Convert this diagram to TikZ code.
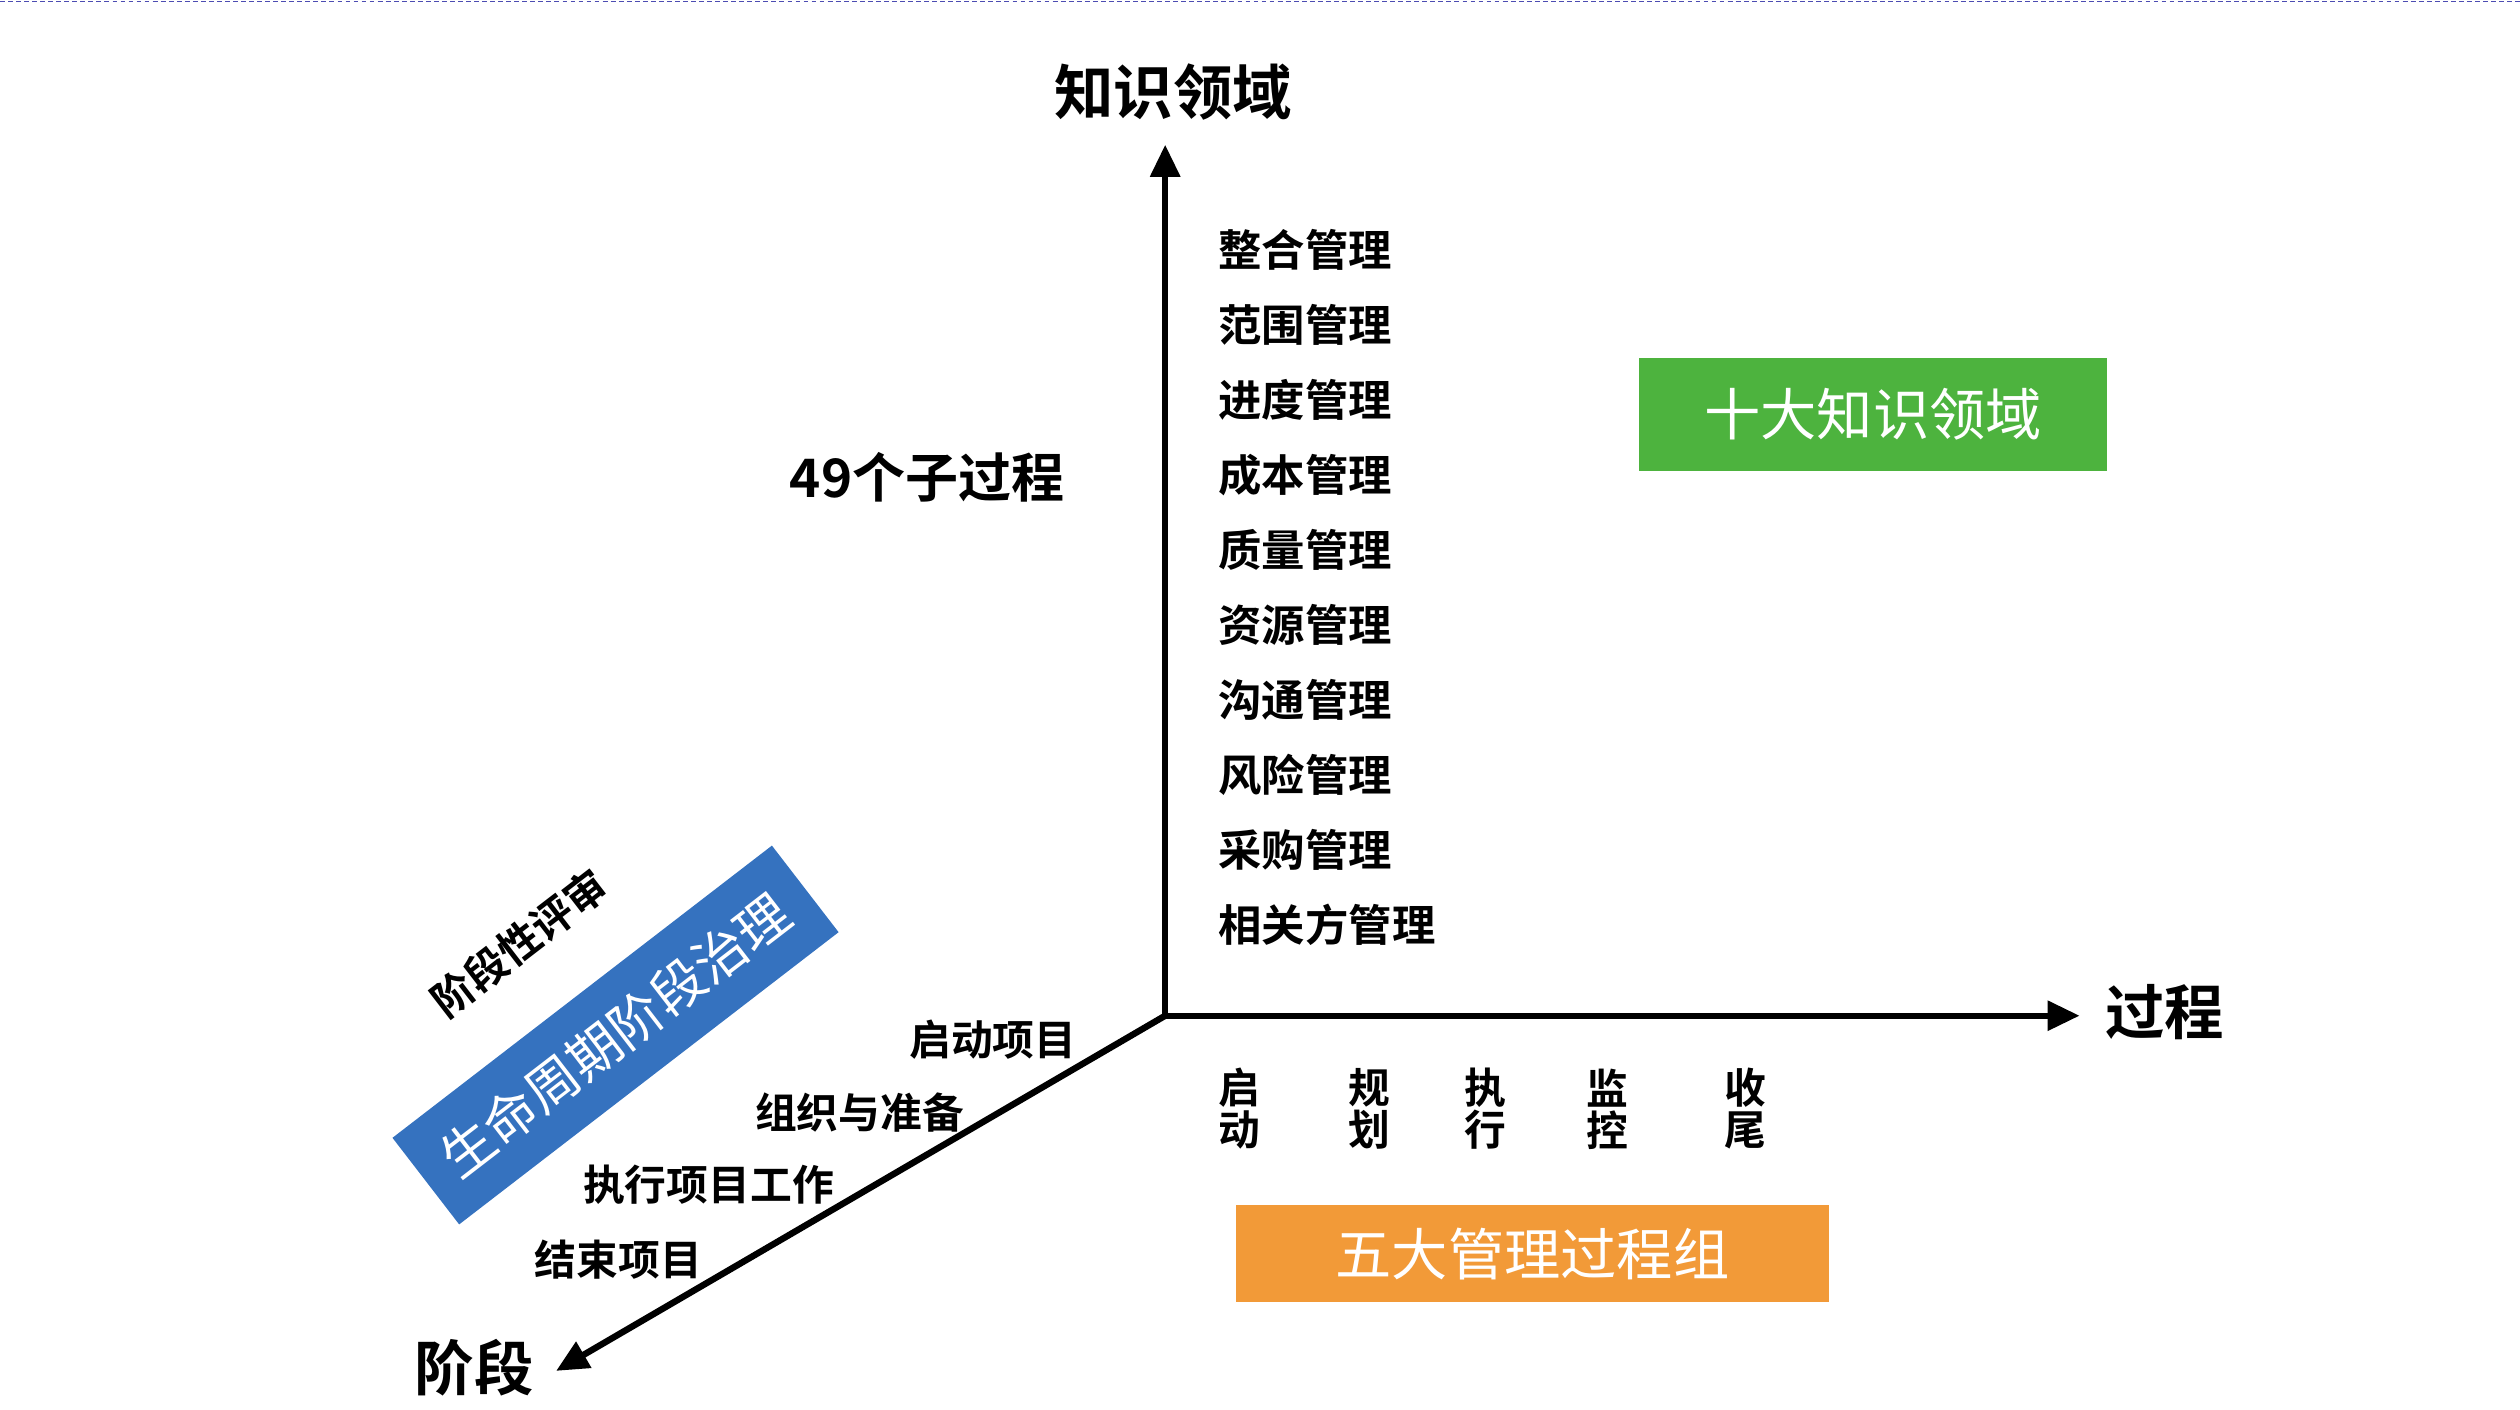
\documentclass[tikz,border=0pt]{standalone}
\usepackage{fontspec}
\newfontfamily\cjk{Noto Sans CJK SC}[BoldFont={Noto Sans CJK SC Bold}]
\definecolor{gbox}{HTML}{4DB33E}
\definecolor{obox}{HTML}{F29A38}
\definecolor{bbox}{HTML}{3572BF}
\begin{document}
\begin{tikzpicture}[x=1pt,y=-1pt,
  ax/.style={line width=4pt,-{Triangle[length=20pt,width=18pt]}},
  item/.style={font=\cjk\bfseries\fontsize{27}{29}\selectfont,anchor=west,inner sep=0},
  big/.style={font=\cjk\bfseries\fontsize{37}{39}\selectfont,inner sep=0},
  col/.style={font=\cjk\bfseries\fontsize{26}{26}\selectfont,align=center,inner sep=0},
  ph/.style={font=\cjk\bfseries\fontsize{26}{28}\selectfont,anchor=east,inner sep=0}]
\usetikzlibrary{arrows.meta}
\useasboundingbox (0,0) rectangle (1568,877);
\draw[densely dashed,color=blue!40!gray,line width=1pt] (0,1) -- (1568,1);
\coordinate (o) at (725,632);
\coordinate (up) at (725,90);
\coordinate (rt) at (1294,632);
\coordinate (dl) at (346,853);
\draw[ax] (o) -- (up);
\draw[ax] (o) -- (rt);
\draw[ax] (o) -- (dl);
\node[big] (kn) at (730,57) {知识领域};
\node[big] (pr) at (1347,630) {过程};
\node[big] (st) at (295,851) {阶段};
\node[big,font=\cjk\bfseries\fontsize{33}{35}\selectfont] (sub) at (577,297) {49个子过程};
\foreach \t [count=\i] in {整合管理,范围管理,进度管理,成本管理,质量管理,资源管理,沟通管理,风险管理,采购管理,相关方管理}
  \node[item] (k\i) at (758,108.5+46.7*\i) {\t};
\node[fill=gbox,minimum width=291pt,minimum height=70pt,text=white,font=\cjk\fontsize{35}{37}\selectfont] (g) at (1165.5,258) {十大知识领域};
\node[fill=obox,minimum width=369pt,minimum height=60pt,text=white,font=\cjk\fontsize{35}{37}\selectfont] (og) at (953.5,780) {五大管理过程组};
\node[col] (c1) at (771,690) {启\\动};
\node[col] (c2) at (852,690) {规\\划};
\node[col] (c3) at (924,690) {执\\行};
\node[col] (c4) at (1000,690) {监\\控};
\node[col] (c5) at (1086,690) {收\\尾};
\node[ph] (p1) at (670,647) {启动项目};
\node[ph] (p2) at (600,692) {组织与准备};
\node[ph] (p3) at (519,737) {执行项目工作};
\node[ph] (p4) at (437,784) {结束项目};
\node[fill=bbox,rotate=37.6,minimum width=298pt,minimum height=68pt,text=white,font=\cjk\fontsize{33}{35}\selectfont] (bl) at (383,644) {生命周期阶段治理};
\node[rotate=37.6,font=\cjk\bfseries\fontsize{26}{28}\selectfont,inner sep=0] (rv) at (323,587) {阶段性评审};
\end{tikzpicture}
\end{document}
